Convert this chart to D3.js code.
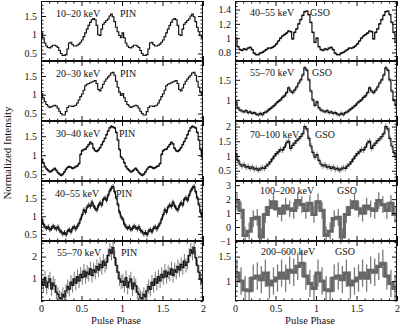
<!DOCTYPE html>
<html><head><meta charset="utf-8">
<script src="https://cdn.jsdelivr.net/npm/d3@7"></script>
<style>
html,body{margin:0;padding:0;background:#fff;}
svg{display:block;}
svg text{font-family:"Liberation Serif","Times New Roman",serif !important;fill:#111;}
</style></head><body>
<svg id="chart" width="400" height="328"></svg>
<script>
// Pulse profiles: one cycle of phase bins per energy band (drawn twice, phase 0–2)
const pin10_20 = [1.05,0.92,0.78,0.70,0.66,0.65,0.68,0.72,0.72,0.70,0.66,0.58,0.50,0.45,0.45,0.47,0.62,0.78,0.80,0.74,0.70,0.70,0.72,0.75,0.80,0.86,0.95,1.05,1.15,1.25,1.33,1.40,1.43,1.40,1.25,1.00,0.98,1.15,1.28,1.33,1.38,1.42,1.50,1.55,1.48,1.35,1.20,1.08,0.98,0.92];
const pin20_30 = [1.03,0.92,0.82,0.74,0.70,0.66,0.68,0.70,0.72,0.70,0.64,0.56,0.50,0.46,0.46,0.55,0.66,0.70,0.70,0.69,0.70,0.72,0.78,0.86,0.95,1.02,1.12,1.24,1.28,1.30,1.32,1.34,1.36,1.38,1.30,1.14,1.10,1.18,1.28,1.36,1.42,1.47,1.52,1.58,1.60,1.52,1.36,1.20,1.07,0.98];
const pin30_40 = [0.90,0.80,0.70,0.64,0.60,0.56,0.58,0.62,0.65,0.60,0.54,0.50,0.47,0.50,0.56,0.63,0.68,0.70,0.68,0.65,0.67,0.70,0.72,0.78,1.02,1.12,1.15,1.16,1.22,1.28,1.34,1.30,1.18,1.12,1.10,1.14,1.20,1.28,1.36,1.44,1.54,1.64,1.72,1.76,1.74,1.72,1.60,1.40,1.15,0.95];
const pin40_55 = [0.92,0.78,0.70,0.66,0.70,0.62,0.66,0.72,0.68,0.64,0.70,0.60,0.56,0.50,0.54,0.48,0.58,0.62,0.56,0.66,0.70,0.64,0.72,0.80,0.92,1.05,1.18,1.12,1.26,1.32,1.28,1.40,1.30,1.22,1.18,1.30,1.38,1.32,1.48,1.52,1.46,1.60,1.72,1.80,1.84,1.70,1.52,1.34,1.12,0.98];
const pin55_70 = [0.90,0.70,1.05,0.62,0.85,1.00,0.55,0.80,0.68,0.40,0.30,0.15,0.10,0.30,0.18,0.45,0.65,0.52,0.85,0.70,1.00,0.80,1.10,0.90,1.20,1.05,1.35,1.10,1.30,1.20,1.45,1.15,1.40,1.30,1.55,1.40,1.65,1.50,1.80,1.60,1.75,2.05,2.30,2.15,2.40,1.95,1.60,1.30,1.00,0.85];
const gso40_55 = [1.00,0.88,0.84,0.83,0.85,0.84,0.86,0.87,0.84,0.79,0.77,0.77,0.79,0.80,0.82,0.84,0.86,0.86,0.87,0.89,0.92,0.96,1.00,1.03,1.05,1.07,1.10,1.09,0.99,1.08,1.13,1.20,1.26,1.32,1.37,1.38,1.33,1.22,1.08,0.94];
const gso55_70 = [0.95,0.80,0.74,0.72,0.70,0.73,0.68,0.70,0.66,0.68,0.64,0.62,0.66,0.63,0.68,0.70,0.74,0.78,0.82,0.86,0.92,0.96,1.00,1.06,1.10,1.18,1.30,1.22,1.18,1.24,1.32,1.42,1.50,1.62,1.80,1.74,1.50,1.22,1.00,0.86];
const gso70_100 = [1.05,0.85,0.72,0.66,0.70,0.62,0.64,0.58,0.62,0.55,0.58,0.52,0.56,0.60,0.58,0.66,0.72,0.80,0.90,1.00,1.08,1.14,1.22,1.20,1.30,1.45,1.50,1.26,1.36,1.44,1.52,1.58,1.66,1.76,2.00,1.92,1.60,1.34,1.12,0.96];
const gso100_200 = [1.8,1.2,-0.6,-0.3,0.6,0.7,-0.7,0.9,1.4,1.8,1.3,1.0,1.5,1.3,1.2,1.9,1.6,1.2,1.7,0.9];
const gso200_600 = [1.16,1.00,0.82,0.80,1.06,1.10,1.03,1.16,0.92,1.00,1.06,1.16,1.06,1.22,1.18,1.30,1.36,1.10,0.95,0.85];

// 1-sigma errors per band
const pinErrors = [0, 0, 0.03, 0.07, 0.32];
const gsoErrors = [0.015, 0.05, 0.1, 0.6, 0.28];

const pinBands = ["10–20 keV", "20–30 keV", "30–40 keV", "40–55 keV", "55–70 keV"];
const gsoBands = ["40–55 keV", "55–70 keV", "70–100 keV", "100–200 keV", "200–600 keV"];

// y ranges and labelled ticks of each panel
const pinDomains = [[0.3,1.9],[0.3,1.9],[0.32,1.9],[0.3,2.0],[0.0,2.7]];
const gsoDomains = [[0.68,1.52],[0.47,1.97],[0.15,2.19],[-1.0,3.3],[0.59,1.82]];
const pinTicks = [[0.5,1,1.5],[0.5,1,1.5],[0.5,1,1.5],[0.5,1,1.5],[1,2]];
const gsoTicks = [[0.8,1,1.2,1.4],[1,1.5],[0.5,1,1.5,2],[-1,0,1,2,3],[1,1.5]];
const pinMinor = [0.1,0.1,0.1,0.1,0.2];
const gsoMinor = [0.05,0.1,0.1,0.5,0.1];
const phaseTicks = [0, 0.5, 1, 1.5, 2];

const pinValues = [pin10_20, pin20_30, pin30_40, pin40_55, pin55_70];
const gsoValues = [gso40_55, gso55_70, gso70_100, gso100_200, gso200_600];

// ---- layout ----
const colX = [[41, 203], [235, 397]];
const rowTop = [1, 61, 121, 181, 241];
const rowH = 60;
const serif = '"Liberation Serif","Times New Roman",serif';
// text placement inside each panel: [band x, detector x, baseline offset]
const pinText = [[56,120,16],[56,120,16],[56,119,16],[55,116,16],[57,121,15]];
const gsoText = [[250,310,15],[250,312,15],[250,315,17],[260,337,12.5],[261,335,14]];

const panels = [];
for (let r = 0; r < 5; r++) {
  panels.push({col:0,row:r,band:pinBands[r],det:"PIN",values:pinValues[r],err:pinErrors[r],
    domain:pinDomains[r],ticks:pinTicks[r],minor:pinMinor[r],text:pinText[r],style:r===4?"grey":"black"});
}
for (let r = 0; r < 5; r++) {
  panels.push({col:1,row:r,band:gsoBands[r],det:"GSO",values:gsoValues[r],err:gsoErrors[r],
    domain:gsoDomains[r],ticks:gsoTicks[r],minor:gsoMinor[r],text:gsoText[r],style:r>=3?"thick":(r>=1?"grey":"black")});
}

const svg = d3.select("#chart");
const fmt = d3.format("~g");

panels.forEach((p, k) => {
  const [xa, xb] = colX[p.col];
  const yt = rowTop[p.row], yb = yt + rowH;
  const x = d3.scaleLinear().domain([0, 2]).range([xa, xb]);
  const y = d3.scaleLinear().domain(p.domain).range([yb, yt]);
  const g = svg.append("g");

  const clipId = "clip" + k;
  svg.append("clipPath").attr("id", clipId).append("rect")
    .attr("x", xa).attr("y", yt).attr("width", xb - xa).attr("height", rowH);

  const n = p.values.length;
  const pts = [];
  for (let c = 0; c < 2; c++) p.values.forEach((v, i) => pts.push([c + i / n, v]));
  const bins = pts.slice();
  pts.push([2, p.values[n - 1]]);

  const plot = g.append("g").attr("clip-path", `url(#${clipId})`);

  if (p.err > 0) {
    const errColor = p.style === "black" ? "#333" : "#7a7a7a";
    plot.selectAll("line.err").data(bins).join("line")
      .attr("class", "err")
      .attr("x1", d => x(d[0] + 0.5 / n)).attr("x2", d => x(d[0] + 0.5 / n))
      .attr("y1", d => y(d[1] - p.err)).attr("y2", d => y(d[1] + p.err))
      .attr("stroke", errColor).attr("stroke-width", p.style === "thick" ? 1.3 : 1);
  }

  const line = d3.line().x(d => x(d[0])).y(d => y(d[1])).curve(d3.curveStepAfter);
  plot.append("path").datum(pts).attr("d", line)
    .attr("fill", "none")
    .attr("stroke", p.style === "thick" ? "#666" : "#111")
    .attr("stroke-width", p.style === "thick" ? 3.2 : 1.2);

  // frame
  g.append("rect").attr("x", xa + 0.5).attr("y", yt + 0.5)
    .attr("width", xb - xa - 1).attr("height", rowH - 1)
    .attr("fill", "none").attr("stroke", "#111").attr("stroke-width", 1);

  // phase ticks (inward, top and bottom)
  const minorX = d3.range(0, 21).map(i => i / 10).filter(v => Math.abs(v * 2 - Math.round(v * 2)) > 1e-6);
  const bottomMajor = d3.axisBottom(x).tickValues(phaseTicks).tickSizeInner(-5).tickSizeOuter(0).tickPadding(4)
    .tickFormat(p.row === 4 ? fmt : () => "");
  const bottomMinor = d3.axisBottom(x).tickValues(minorX).tickSizeInner(-2.5).tickSizeOuter(0).tickFormat(() => "");
  const topMajor = d3.axisTop(x).tickValues(phaseTicks).tickSizeInner(-5).tickSizeOuter(0).tickFormat(() => "");
  const topMinor = d3.axisTop(x).tickValues(minorX).tickSizeInner(-2.5).tickSizeOuter(0).tickFormat(() => "");
  [[bottomMajor, yb], [bottomMinor, yb], [topMajor, yt], [topMinor, yt]].forEach(([ax, yy]) => {
    const a = g.append("g").attr("transform", `translate(0,${yy})`).call(ax).attr("font-family", serif);
    a.select(".domain").remove();
    a.selectAll("line").attr("stroke", "#111");
    a.selectAll("text").attr("font-size", 10).style("font-family", serif).attr("fill", "#111");
  });

  // intensity ticks (inward, left and right)
  const lo = p.domain[0], hi = p.domain[1];
  const minorY = [];
  for (let v = Math.ceil(lo / p.minor - 1e-6) * p.minor; v <= hi + 1e-9; v += p.minor) {
    const r = Math.round(v * 1000) / 1000;
    if (!p.ticks.some(t => Math.abs(t - r) < 1e-6)) minorY.push(r);
  }
  const leftMajor = d3.axisLeft(y).tickValues(p.ticks).tickSizeInner(-5).tickSizeOuter(0).tickPadding(4).tickFormat(fmt);
  const leftMinor = d3.axisLeft(y).tickValues(minorY).tickSizeInner(-2.5).tickSizeOuter(0).tickFormat(() => "");
  const rightMajor = d3.axisRight(y).tickValues(p.ticks).tickSizeInner(-5).tickSizeOuter(0).tickFormat(() => "");
  const rightMinor = d3.axisRight(y).tickValues(minorY).tickSizeInner(-2.5).tickSizeOuter(0).tickFormat(() => "");
  [[leftMajor, xa], [leftMinor, xa], [rightMajor, xb], [rightMinor, xb]].forEach(([ax, xx]) => {
    const a = g.append("g").attr("transform", `translate(${xx},0)`).call(ax).attr("font-family", serif);
    a.select(".domain").remove();
    a.selectAll("line").attr("stroke", "#111");
    a.selectAll("text").attr("font-size", 10).style("font-family", serif).attr("fill", "#111");
  });

  // band and detector labels
  g.append("text").attr("x", p.text[0]).attr("y", yt + p.text[2]).attr("font-size", 10).style("font-family", serif).text(p.band);
  g.append("text").attr("x", p.text[1]).attr("y", yt + p.text[2]).attr("font-size", 10).style("font-family", serif).text(p.det);
});

// axis titles
svg.append("text").attr("x", 116).attr("y", 324).attr("text-anchor", "middle").attr("font-size", 10.5).style("font-family", serif).text("Pulse Phase");
svg.append("text").attr("x", 310).attr("y", 324).attr("text-anchor", "middle").attr("font-size", 10.5).style("font-family", serif).text("Pulse Phase");
svg.append("text").attr("transform", "translate(11,153) rotate(-90)").attr("text-anchor", "middle")
  .attr("font-size", 11).style("font-family", serif).text("Normalized Intensity");
</script>
</body></html>
